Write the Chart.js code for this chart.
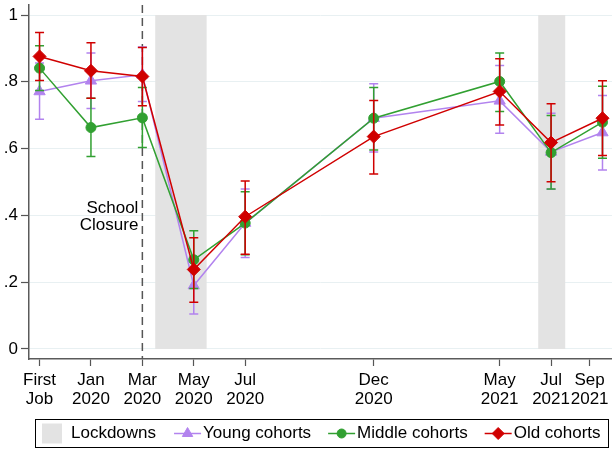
<!DOCTYPE html>
<html>
<head>
<meta charset="utf-8">
<title>Cohorts</title>
<script src="https://cdn.jsdelivr.net/npm/chart.js@4.4.0/dist/chart.umd.min.js"></script>
<style>
  html, body { margin: 0; padding: 0; background: #fff; }
</style>
</head>
<body>
<canvas id="chart" width="612" height="450"></canvas>
<script>
// months counted from Jan 2020
const waves = [-2, 0, 2, 4, 6, 11, 15.9, 17.9, 19.9];
const tickPos = [-2, 0, 2, 4, 6, 11, 15.9, 17.9, 19.4];
const tickLabels = [['First', 'Job'], ['Jan', '2020'], ['Mar', '2020'], ['May', '2020'], ['Jul', '2020'],
                    ['Dec', '2020'], ['May', '2021'], ['Jul', '2021'], ['Sep', '2021']];
const yTicks = [0, 0.2, 0.4, 0.6, 0.8, 1];

const young   = [0.771, 0.803, 0.821, 0.190, 0.377, 0.691, 0.743, 0.590, 0.648];
const youngLo = [0.688, 0.720, 0.741, 0.105, 0.274, 0.590, 0.646, 0.478, 0.536];
const youngHi = [0.856, 0.886, 0.904, 0.277, 0.479, 0.794, 0.849, 0.706, 0.759];

const middle   = [0.841, 0.663, 0.692, 0.267, 0.377, 0.691, 0.801, 0.588, 0.679];
const middleLo = [0.774, 0.576, 0.603, 0.181, 0.282, 0.596, 0.711, 0.479, 0.571];
const middleHi = [0.908, 0.751, 0.783, 0.354, 0.471, 0.783, 0.886, 0.699, 0.787];

const old   = [0.876, 0.833, 0.816, 0.238, 0.396, 0.636, 0.771, 0.618, 0.691];
const oldLo = [0.804, 0.751, 0.728, 0.140, 0.284, 0.524, 0.671, 0.501, 0.579];
const oldHi = [0.948, 0.917, 0.903, 0.333, 0.503, 0.744, 0.869, 0.734, 0.803];

const lockdowns = [[2.5, 4.5], [17.4, 18.45]];
const closureAt = 2;

const FONT = '"Liberation Sans", Arial, sans-serif';
const PURPLE = '#b283ee';
const GREEN = '#31a031';
const RED = '#d00000';
const SHADE = '#e3e3e3';

Chart.defaults.font.family = FONT;
Chart.defaults.font.size = 17;
Chart.defaults.color = '#000';

function series(label, ys, lo, hi, color, style, radius, order) {
    return {
        label: label,
        data: waves.map((x, i) => ({ x: x, y: ys[i] })),
        errLo: lo,
        errHi: hi,
        borderColor: color,
        backgroundColor: color,
        borderWidth: 1.5,
        pointStyle: style,
        pointRadius: radius,
        pointBorderWidth: 1,
        pointBackgroundColor: color,
        pointBorderColor: color,
        tension: 0,
        clip: false,
        order: order
    };
}

// shading, closure line, error bars, boxed legend
const extras = {
    id: 'extras',
    beforeDatasetsDraw(chart) {
        const { ctx, chartArea, scales: { x, y } } = chart;
        ctx.save();
        ctx.fillStyle = SHADE;
        lockdowns.forEach(([a, b]) => {
            const x0 = x.getPixelForValue(a), x1 = x.getPixelForValue(b);
            const y0 = y.getPixelForValue(1), y1 = y.getPixelForValue(0);
            ctx.fillRect(x0, y0, x1 - x0, y1 - y0);
        });
        const xc = x.getPixelForValue(closureAt);
        ctx.strokeStyle = '#555';
        ctx.lineWidth = 1.5;
        ctx.setLineDash([8, 5]);
        ctx.beginPath();
        ctx.moveTo(xc, chartArea.top);
        ctx.lineTo(xc, chartArea.bottom);
        ctx.stroke();
        ctx.setLineDash([]);
        ctx.fillStyle = '#000';
        ctx.font = '17px ' + FONT;
        ctx.textAlign = 'right';
        ctx.textBaseline = 'middle';
        ctx.fillText('School', xc - 4, y.getPixelForValue(0.42));
        ctx.fillText('Closure', xc - 4, y.getPixelForValue(0.37));
        ctx.restore();
    },
    beforeDatasetDraw(chart, args) {
        const ds = chart.data.datasets[args.index];
        const { ctx, scales: { x, y } } = chart;
        ctx.save();
        ctx.strokeStyle = ds.borderColor;
        ctx.lineWidth = 1.5;
        waves.forEach((w, i) => {
            const px = x.getPixelForValue(w);
            const top = y.getPixelForValue(ds.errHi[i]);
            const bot = y.getPixelForValue(ds.errLo[i]);
            ctx.beginPath();
            ctx.moveTo(px, top); ctx.lineTo(px, bot);
            ctx.moveTo(px - 4.5, top); ctx.lineTo(px + 4.5, top);
            ctx.moveTo(px - 4.5, bot); ctx.lineTo(px + 4.5, bot);
            ctx.stroke();
        });
        ctx.restore();
    },
    afterDraw(chart) {
        const ctx = chart.ctx;
        const boxL = 35, boxT = 419, boxR = 609, boxB = 448;
        const cy = (boxT + boxB) / 2;
        ctx.save();
        ctx.strokeStyle = '#000';
        ctx.lineWidth = 1;
        ctx.strokeRect(boxL + 0.5, boxT + 0.5, boxR - boxL - 1, boxB - boxT - 1);
        ctx.font = '17px ' + FONT;
        ctx.textAlign = 'left';
        ctx.textBaseline = 'middle';
        let cx = boxL + 7;
        ctx.fillStyle = SHADE;
        ctx.fillRect(cx, cy - 10, 20, 20);
        cx += 29;
        ctx.fillStyle = '#000';
        ctx.fillText('Lockdowns', cx, cy);
        cx += ctx.measureText('Lockdowns').width + 18;
        const items = [
            chart.data.datasets.find(d => d.label === 'Young cohorts'),
            chart.data.datasets.find(d => d.label === 'Middle cohorts'),
            chart.data.datasets.find(d => d.label === 'Old cohorts')
        ];
        items.forEach(d => {
            ctx.strokeStyle = d.borderColor;
            ctx.fillStyle = d.borderColor;
            ctx.lineWidth = 1.5;
            ctx.beginPath();
            ctx.moveTo(cx, cy); ctx.lineTo(cx + 27, cy);
            ctx.stroke();
            ctx.lineWidth = 1;
            Chart.helpers.drawPoint(ctx, { pointStyle: d.pointStyle, radius: d.pointRadius - 0.5, borderWidth: 1, rotation: 0 }, cx + 13.5, cy);
            cx += 29;
            ctx.fillStyle = '#000';
            ctx.fillText(d.label, cx, cy);
            cx += ctx.measureText(d.label).width + 17;
        });
        ctx.restore();
    }
};

new Chart(document.getElementById('chart'), {
    type: 'line',
    data: {
        datasets: [
            series('Young cohorts', young, youngLo, youngHi, PURPLE, 'triangle', 6.5, 3),
            series('Middle cohorts', middle, middleLo, middleHi, GREEN, 'circle', 5, 2),
            series('Old cohorts', old, oldLo, oldHi, RED, 'rectRot', 6.5, 1)
        ]
    },
    options: {
        responsive: false,
        animation: false,
        devicePixelRatio: 1,
        layout: { autoPadding: false, padding: { top: 5, left: 0, right: 0, bottom: 0 } },
        plugins: {
            legend: { display: false },
            tooltip: { enabled: false }
        },
        scales: {
            x: {
                type: 'linear',
                min: -2.41,
                max: 20.27,
                afterBuildTicks: axis => { axis.ticks = tickPos.map(v => ({ value: v })); },
                afterFit: axis => { axis.height = 91; axis.paddingLeft = 0; axis.paddingRight = 0; },
                ticks: {
                    autoSkip: false,
                    maxRotation: 0,
                    padding: 5,
                    font: { size: 17, lineHeight: 1.12 },
                    callback: (v) => {
                        const i = tickPos.indexOf(v);
                        return i >= 0 ? tickLabels[i] : '';
                    }
                },
                grid: { drawOnChartArea: false, tickColor: '#555', tickLength: 7, tickWidth: 1.2 },
                border: { color: '#5a5a5a', width: 1.5 }
            },
            y: {
                min: -0.03,
                max: 1.03,
                afterBuildTicks: axis => { axis.ticks = yTicks.map(v => ({ value: v })); },
                afterFit: axis => { axis.width = 29; axis.paddingTop = 0; axis.paddingBottom = 0; },
                ticks: {
                    padding: 3,
                    font: { size: 17 },
                    callback: v => (v === 0 ? '0' : v === 1 ? '1' : v.toFixed(1).replace('0.', '.'))
                },
                grid: { color: '#e8f0f2', lineWidth: 1, tickColor: '#555', tickLength: 8, tickWidth: 1.2 },
                border: { color: '#5a5a5a', width: 1.5 }
            }
        }
    },
    plugins: [extras]
});
</script>
</body>
</html>
